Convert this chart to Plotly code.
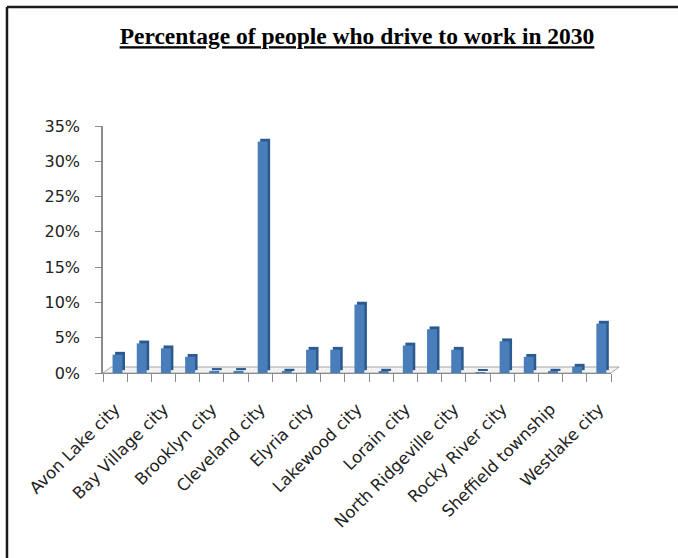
import plotly.graph_objects as go

# Share of residents driving to work, by community (projected for 2030)
communities = [
    "Avon Lake city", "Avon city", "Bay Village city", "Berea city",
    "Brooklyn city", "Brooklyn Heights village", "Cleveland city",
    "Columbia township", "Elyria city", "Fairview Park city",
    "Lakewood city", "Linndale village", "Lorain city",
    "North Olmsted city", "North Ridgeville city", "Olmsted Falls city",
    "Rocky River city", "Sheffield Lake city", "Sheffield township",
    "Sheffield village", "Westlake city",
]
drive_share = [
    0.026, 0.042, 0.035, 0.023, 0.003, 0.003, 0.328, 0.002, 0.033, 0.033,
    0.097, 0.002, 0.039, 0.062, 0.033, 0.001, 0.045, 0.023, 0.002, 0.009,
    0.070,
]
y_ticks = [0, 0.05, 0.10, 0.15, 0.20, 0.25, 0.30, 0.35]

# only every other community name is printed under the axis
tick_text = [name if i % 2 == 0 else "" for i, name in enumerate(communities)]

FRONT = "#4A7EBB"
SIDE = "#2C5A8F"
AXIS = "#8C8C8C"
TEXT = "#222222"

fig = go.Figure()

# darker copy, nudged right and up, gives each column its depth face
fig.add_trace(go.Bar(
    x=communities, y=drive_share, base=0.004,
    offset=0.0, width=0.41,
    marker=dict(color=SIDE, line=dict(width=0)),
    hoverinfo="skip", showlegend=False,
))
# front face of each column
fig.add_trace(go.Bar(
    x=communities, y=drive_share,
    offset=-0.105, width=0.41,
    marker=dict(color=FRONT, line=dict(width=0)),
    showlegend=False,
))

# thin floor slab under the columns
fig.add_shape(
    type="path", xref="x domain", yref="y",
    path="M 0,0 L 1,0 L 1.016,0.0085 L 0.016,0.0085 Z",
    fillcolor="#F3F3F3", line=dict(color="#A6A6A6", width=1),
    layer="below",
)

# frame along the top and left edges
fig.add_shape(type="line", xref="paper", yref="paper",
              x0=-0.189, x1=1.135, y0=1.482, y1=1.482,
              line=dict(color="#1A1A1A", width=2.5))
fig.add_shape(type="line", xref="paper", yref="paper",
              x0=-0.189, x1=-0.189, y0=1.482, y1=-0.8,
              line=dict(color="#1A1A1A", width=2.5))

fig.update_layout(
    width=678, height=558,
    margin=dict(l=103, r=67, t=126, b=185),
    paper_bgcolor="white", plot_bgcolor="white",
    barmode="overlay",
    title=dict(
        text="<b><u>Percentage of people who drive to work in 2030</u></b>",
        x=0.5, xref="paper", xanchor="center",
        y=1 - 36 / 558, yanchor="middle",
        font=dict(family="Liberation Serif", size=23.5, color="black"),
    ),
    xaxis=dict(
        type="category",
        categoryorder="array", categoryarray=communities,
        tickmode="array", tickvals=communities, ticktext=tick_text,
        tickson="boundaries",
        tickangle=-45,
        ticks="outside", ticklen=8, tickcolor=AXIS, tickwidth=1,
        showline=True, linecolor=AXIS, linewidth=1,
        showgrid=False, zeroline=False,
        ticklabelstandoff=19,
        tickfont=dict(family="DejaVu Sans", size=16.5, color=TEXT),
        range=[-0.5, 20.5],
    ),
    yaxis=dict(
        range=[0, 0.35],
        tickmode="array", tickvals=y_ticks, tickformat=".0%",
        ticks="outside", ticklen=6, tickcolor=AXIS, tickwidth=1,
        showline=True, linecolor=AXIS, linewidth=1.5,
        showgrid=False, zeroline=False,
        ticklabelstandoff=12,
        tickfont=dict(family="DejaVu Sans", size=16, color=TEXT),
    ),
)

fig.write_html("out.html")
